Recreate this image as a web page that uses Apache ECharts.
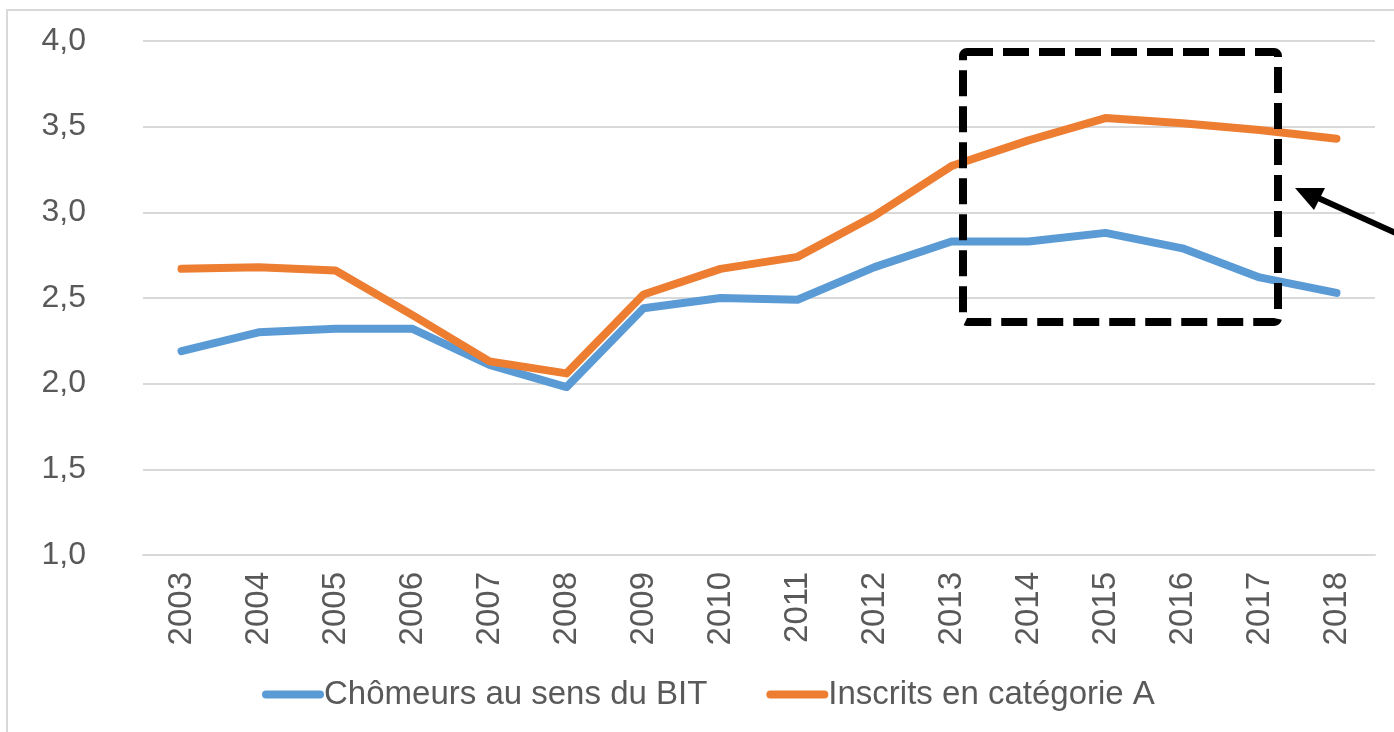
<!DOCTYPE html>
<html>
<head>
<meta charset="utf-8">
<script src="https://cdn.jsdelivr.net/npm/echarts@6/dist/echarts.min.js"></script>
<style>
html,body{margin:0;padding:0;background:#fff;}
#chart{width:1394px;height:732px;}
</style>
</head>
<body>
<div id="chart"></div>
<script>
const years = ['2003','2004','2005','2006','2007','2008','2009','2010','2011','2012','2013','2014','2015','2016','2017','2018'];
const chomeursBIT = [2.19, 2.30, 2.32, 2.32, 2.11, 1.98, 2.44, 2.50, 2.49, 2.68, 2.83, 2.83, 2.88, 2.79, 2.62, 2.53];
const inscritsCatA = [2.67, 2.68, 2.66, 2.40, 2.13, 2.06, 2.52, 2.67, 2.74, 2.98, 3.27, 3.42, 3.55, 3.52, 3.48, 3.43];
const seriesNames = ['Chômeurs au sens du BIT', 'Inscrits en catégorie A'];
const yTicks = {min: 1, max: 4, interval: 0.5};

const chart = echarts.init(document.getElementById('chart'), null, {renderer: 'canvas'});
const font = '"Liberation Sans", Arial, sans-serif';
const txt = '#595959';
const legendIcon = 'path://M4,0 L58,0 A4,4 0 0 1 58,8 L4,8 A4,4 0 0 1 4,0 Z';

chart.setOption({
  animation: false,
  backgroundColor: '#fff',
  textStyle: {fontFamily: font},
  grid: {left: 143, right: 19, top: 41, bottom: 177, containLabel: false},
  legend: {
    data: seriesNames,
    left: 257, top: 673,
    icon: legendIcon,
    itemWidth: 62, itemHeight: 9, itemGap: 59,
    textStyle: {fontSize: 33, color: txt, fontFamily: font, padding: [0,0,0,-5]}
  },
  xAxis: {
    type: 'category', data: years, boundaryGap: true,
    axisLine: {show: true, lineStyle: {color: '#D9D9D9', width: 2}},
    axisTick: {show: false},
    axisLabel: {rotate: 90, margin: 17, fontSize: 33, color: txt, fontFamily: font}
  },
  yAxis: {
    type: 'value', min: yTicks.min, max: yTicks.max, interval: yTicks.interval,
    axisLine: {show: false}, axisTick: {show: false},
    splitLine: {lineStyle: {color: '#D9D9D9', width: 2}},
    axisLabel: {margin: 57, fontSize: 32, color: txt, fontFamily: font,
      formatter: v => v.toFixed(1).replace('.', ',')}
  },
  series: [
    {name: seriesNames[0], type: 'line', data: chomeursBIT, symbol: 'none',
      itemStyle: {color: '#5B9BD5'},
      lineStyle: {color: '#5B9BD5', width: 8, cap: 'round', join: 'round'}},
    {name: seriesNames[1], type: 'line', data: inscritsCatA, symbol: 'none',
      itemStyle: {color: '#ED7D31'},
      lineStyle: {color: '#ED7D31', width: 8, cap: 'round', join: 'round'}}
  ],
  graphic: [
    {type: 'rect', shape: {x: 7, y: 10, width: 1420, height: 760},
      style: {fill: 'none', stroke: '#D9D9D9', lineWidth: 2}, silent: true, z: -1},
    {type: 'rect', shape: {x: 963, y: 52, width: 315, height: 270, r: 4},
      style: {fill: 'none', stroke: '#000', lineWidth: 8, lineDash: [26, 10]}, z: 100},
    {type: 'line', shape: {x1: 1400, y1: 235, x2: 1316, y2: 197},
      style: {stroke: '#000', lineWidth: 6}, z: 100},
    {type: 'polygon', shape: {points: [[1295, 188], [1325, 188], [1314, 210]]},
      style: {fill: '#000'}, z: 100}
  ]
});
</script>
</body>
</html>
